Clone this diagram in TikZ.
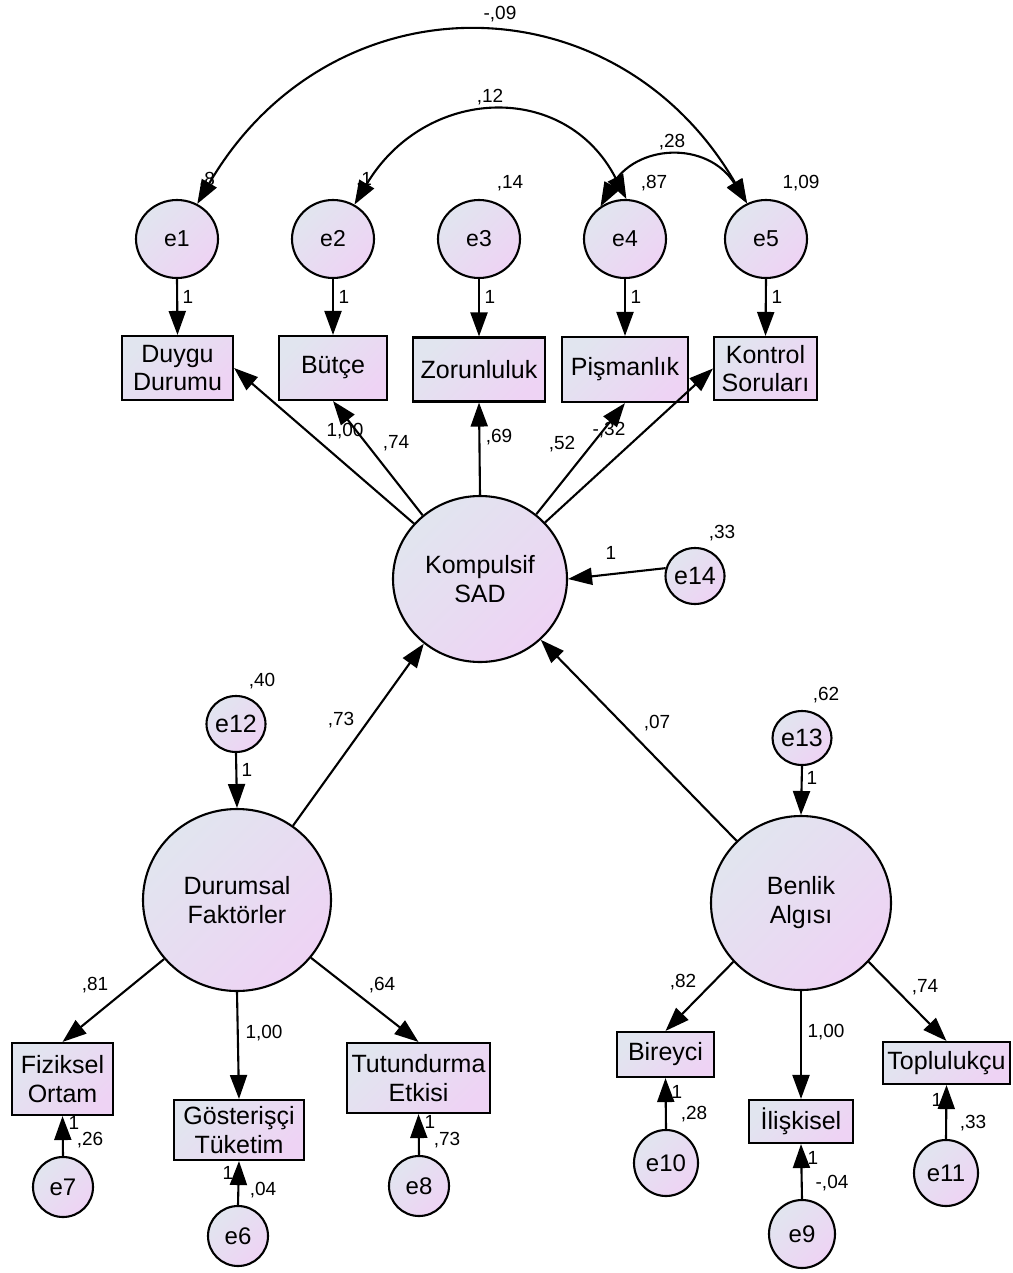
\documentclass[tikz,border=0pt]{standalone}
\usepackage{fontspec}
\setmainfont{Liberation Sans}
\usetikzlibrary{arrows.meta,shapes.geometric}
\definecolor{cL}{RGB}{225,229,239}
\definecolor{cR}{RGB}{238,211,244}
\begin{document}
\begin{tikzpicture}[x=1pt,y=-1pt,
 lv/.style={ellipse,draw,line width=2.1pt,left color=cL,right color=cR,shading angle=45,inner sep=0pt,align=center},
 ob/.style={rectangle,draw,line width=2.1pt,left color=cL,right color=cR,shading angle=45,inner sep=0pt,align=center,font=\fontsize{25}{28.5}\selectfont},
 big/.style={font=\fontsize{25}{29}\selectfont},
 etop/.style={minimum width=82pt,minimum height=78pt,font=\fontsize{23}{26}\selectfont},
 esm/.style={minimum width=56pt,minimum height=56pt,font=\fontsize{25}{28}\selectfont},
 ebot/.style={font=\fontsize{24}{27}\selectfont},
 arr/.style={line width=2.1pt,-{Triangle[length=24pt,width=17pt]}},
 cov/.style={line width=2.1pt,{Triangle[length=24pt,width=17pt]}-{Triangle[length=24pt,width=17pt]}},
 lb/.style={font=\fontsize{19}{21}\selectfont,inner sep=0pt},
]
\useasboundingbox[fill=white] (0,0) rectangle (1012,1273);

% labels that sit under arrowheads
\node[lb] (v1) at (207,180) {,8};
\node[lb] (v2) at (364,180) {,1};

% top error terms
\node[lv,etop] (e1) at (177,239) {e1};
\node[lv,etop] (e2) at (333,239) {e2};
\node[lv,etop] (e3) at (479,239) {e3};
\node[lv,etop] (e4) at (625,239) {e4};
\node[lv,etop] (e5) at (766,239) {e5};

% observed top
\node[ob,minimum width=111pt,minimum height=64pt] (dd) at (177.5,368) {Duygu\\Durumu};
\node[ob,minimum width=108pt,minimum height=64pt] (bu) at (333,368) {Bütçe};
\node[ob,minimum width=132pt,minimum height=64pt] (zo) at (479,369.5) {Zorunluluk};
\node[ob,minimum width=126pt,minimum height=65pt] (pi) at (625,369.5) {Pişmanlık};
\node[ob,minimum width=103pt,minimum height=63pt] (ko) at (765.5,368.5) {Kontrol\\Soruları};

% latent
\node[lv,big,minimum width=174pt,minimum height=166pt] (ks) at (480,579) {Kompulsif\\SAD};
\node[lv,esm] (e14) at (695,576) {e14};
\node[lv,big,minimum width=188pt,minimum height=182pt] (df) at (237,900) {Durumsal\\Faktörler};
\node[lv,esm] (e12) at (236,724) {e12};
\node[lv,big,minimum width=180pt,minimum height=174pt] (ba) at (801,903) {Benlik\\Algısı};
\node[lv,esm,minimum width=52pt,minimum height=54pt] (e13) at (802,738) {e13};

% observed bottom
\node[ob,minimum width=101pt,minimum height=72pt] (fo) at (62.5,1079) {Fiziksel\\Ortam};
\node[ob,minimum width=130pt,minimum height=60pt] (gt) at (239,1130) {Gösterişçi\\Tüketim};
\node[ob,minimum width=143pt,minimum height=70pt] (te) at (418.5,1078) {Tutundurma\\Etkisi};
\node[ob,minimum width=97pt,minimum height=45pt] (bi) at (665.5,1054.5) {Bireyci};
\node[ob,minimum width=104pt,minimum height=43pt] (il) at (801,1121.5) {İlişkisel};
\node[ob,minimum width=127pt,minimum height=42pt] (to) at (946.5,1063) {Toplulukçu};

% bottom error terms
\node[lv,ebot,minimum width=60pt,minimum height=60pt] (e7) at (63,1187) {e7};
\node[lv,ebot,minimum width=60pt,minimum height=60pt] (e6) at (238,1236) {e6};
\node[lv,ebot,minimum width=60pt,minimum height=60pt] (e8) at (419,1186) {e8};
\node[lv,ebot,minimum width=64pt,minimum height=66pt] (e10) at (666,1163) {e10};
\node[lv,ebot,minimum width=66pt,minimum height=68pt] (e9) at (802,1234) {e9};
\node[lv,ebot,minimum width=64pt,minimum height=66pt] (e11) at (946,1173) {e11};

% covariances
\draw[cov] (e1.60) .. controls (330,-24) and (615,-24) .. (e5.118);
\draw[cov] (e2.58) .. controls (425,86) and (565,80) .. (e4.88);
\draw[cov] (e4.127) .. controls (635,144) and (707,140) .. (e5.118);

% error to indicator
\foreach \e/\o in {e1/dd,e2/bu,e3/zo,e4/pi,e5/ko}{\draw[arr] (\e.south) -- (\o.north);}
\foreach \e/\o in {e7/fo,e6/gt,e8/te,e10/bi,e9/il,e11/to}{\draw[arr] (\e.north) -- (\o.south);}

% loadings
\draw[arr] (ks.140) -- (dd.east);
\draw[arr] (ks.132) -- (bu.south);
\draw[arr] (ks.north) -- (zo.south);
\draw[arr] (ks.49) -- (pi.south);
\draw[arr] (ks.41) -- (ko.west);
\draw[arr] (e14.165) -- (ks.east);
\draw[arr] (df.53) -- (ks.229);
\draw[arr] (ba.136) -- (ks.315);
\draw[arr] (e12.south) -- (df.north);
\draw[arr] (e13.south) -- (ba.north);
\draw[arr] (df.219) -- (fo.north);
\draw[arr] (df.south) -- (gt.north);
\draw[arr] (df.322) -- (te.north);
\draw[arr] (ba.221) -- (bi.north);
\draw[arr] (ba.south) -- (il.north);
\draw[arr] (ba.319) -- (to.north);

% labels
\node[lb] (l1) at (500,14) {-,09};
\node[lb] (l2) at (490,97) {,12};
\node[lb] (l3) at (672,142) {,28};
\node[lb] (l4) at (510,183) {,14};
\node[lb] (l5) at (654,183) {,87};
\node[lb] (l6) at (801,183) {1,09};
\foreach \x in {188,344,490,636,777}{\node[lb] at (\x,297) {1};}
\node[lb] (m1) at (345,431) {1,00};
\node[lb] (m2) at (396,443) {,74};
\node[lb] (m3) at (499,437) {,69};
\node[lb] (m4) at (562,444) {,52};
\node[lb] (m5) at (609,430) {-,32};
\node[lb] (m6) at (611,553) {1};
\node[lb] (m7) at (722,533) {,33};
\node[lb] (m8) at (262,681) {,40};
\node[lb] (m9) at (247,770) {1};
\node[lb] (m10) at (341,720) {,73};
\node[lb] (m11) at (657,723) {,07};
\node[lb] (m12) at (826,695) {,62};
\node[lb] (m13) at (812,778) {1};
\node[lb] (b1) at (95,985) {,81};
\node[lb] (b2) at (264,1033) {1,00};
\node[lb] (b3) at (382,985) {,64};
\node[lb] (b4) at (74,1123) {1};
\node[lb] (b5) at (90,1140) {,26};
\node[lb] (b6) at (228,1173) {1};
\node[lb] (b7) at (263,1190) {,04};
\node[lb] (b8) at (430,1122) {1};
\node[lb] (b9) at (447,1140) {,73};
\node[lb] (r1) at (683,982) {,82};
\node[lb] (r2) at (826,1032) {1,00};
\node[lb] (r3) at (925,987) {,74};
\node[lb] (r4) at (677,1092) {1};
\node[lb] (r5) at (694,1114) {,28};
\node[lb] (r6) at (813,1158) {1};
\node[lb] (r7) at (832,1183) {-,04};
\node[lb] (r8) at (937,1100) {1};
\node[lb] (r9) at (973,1123) {,33};
\end{tikzpicture}
\end{document}
